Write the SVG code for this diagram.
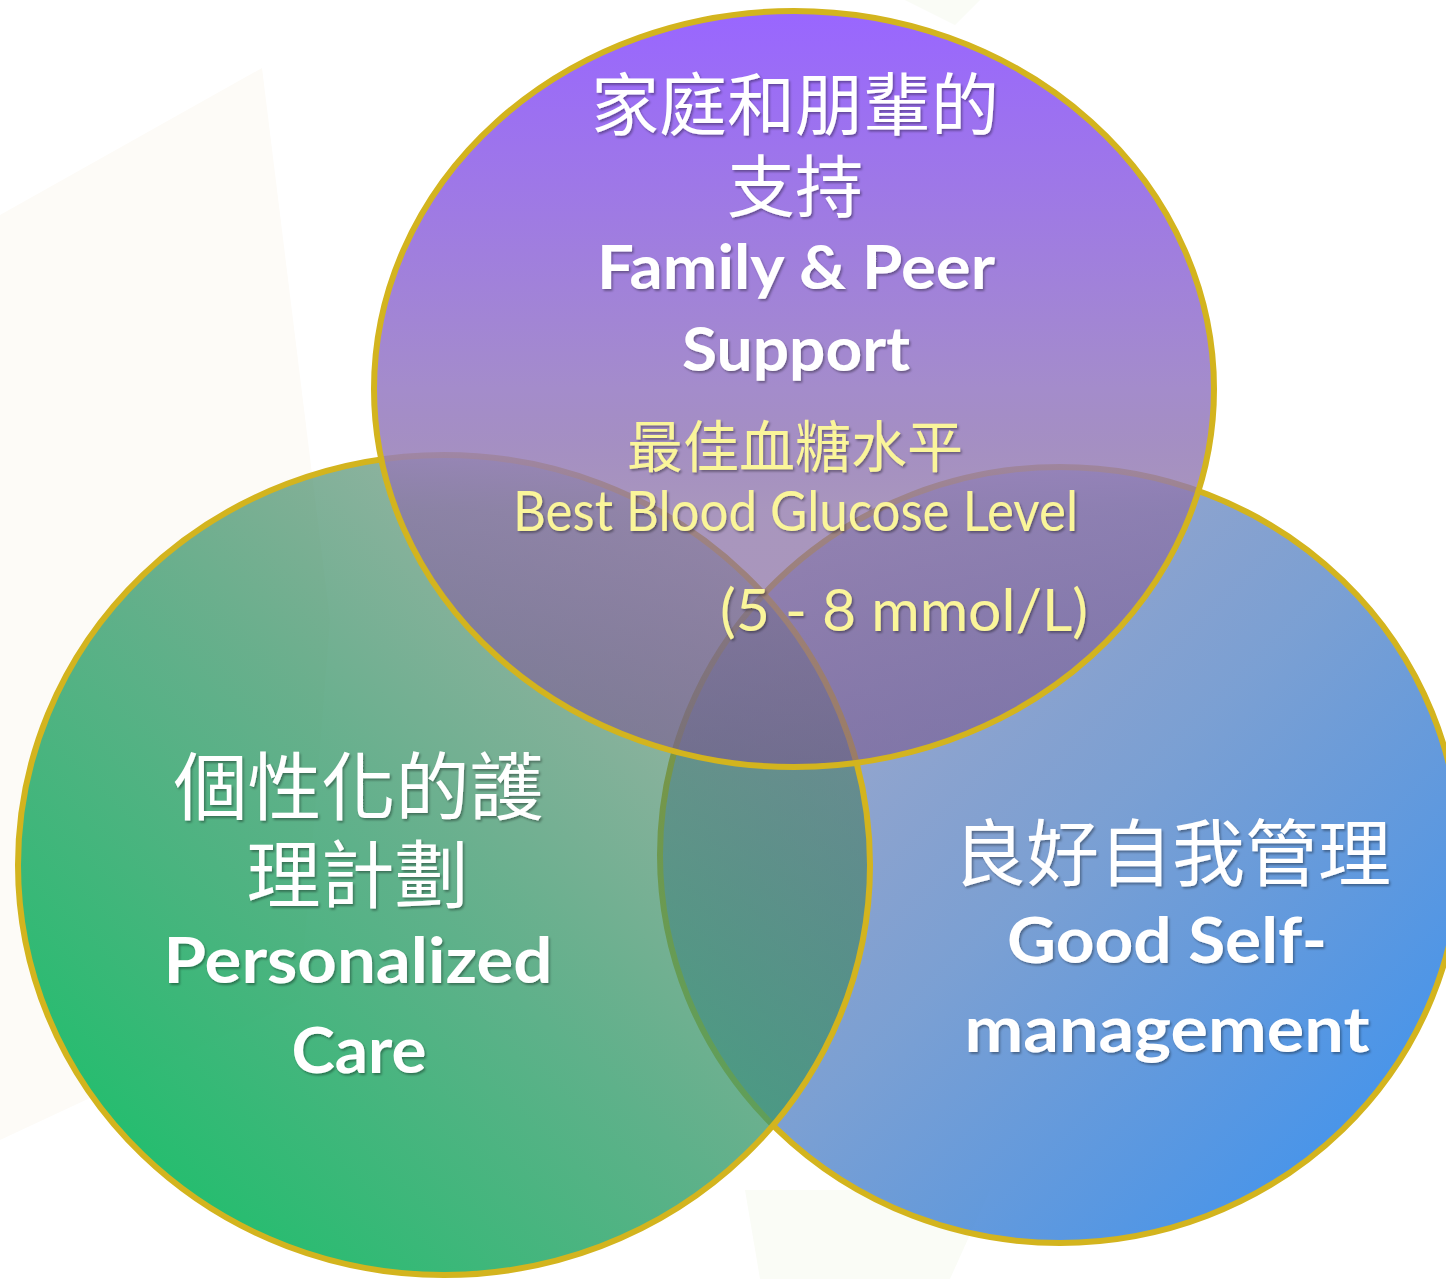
<svg xmlns="http://www.w3.org/2000/svg" width="1446" height="1279" viewBox="0 0 1446 1279">
<defs>
<linearGradient id="gPurple" x1="0" y1="0" x2="0" y2="1">
<stop offset="0" stop-color="#9966FF" stop-opacity="1"/>
<stop offset="0.5" stop-color="#A48CCB" stop-opacity="1"/>
<stop offset="0.66" stop-color="#8C73A8" stop-opacity="0.75"/>
<stop offset="1" stop-color="#785A90" stop-opacity="0.62"/>
</linearGradient>
<linearGradient id="gGreen" x1="0.12" y1="0.9" x2="0.88" y2="0.12">
<stop offset="0" stop-color="#1FBF6C" stop-opacity="1"/>
<stop offset="0.45" stop-color="#3AA070" stop-opacity="0.82"/>
<stop offset="1" stop-color="#466E56" stop-opacity="0.48"/>
</linearGradient>
<linearGradient id="gBlue" x1="0.12" y1="0.12" x2="0.9" y2="0.88">
<stop offset="0" stop-color="#5060A0" stop-opacity="0.5"/>
<stop offset="0.5" stop-color="#5A88C8" stop-opacity="0.8"/>
<stop offset="1" stop-color="#4494EC" stop-opacity="1"/>
</linearGradient>
<filter id="sh" x="-10%" y="-10%" width="120%" height="130%">
<feDropShadow dx="1.5" dy="2" stdDeviation="1.2" flood-color="#000" flood-opacity="0.35"/>
</filter>
</defs>
<style>
.ring{stroke:#D3B41E;stroke-width:6}
.zh{font-family:"Noto Sans CJK TC","Noto Sans CJK SC",sans-serif;fill:#FFFFFF;text-anchor:middle}
.en{font-family:Lato,"Liberation Sans",sans-serif;font-weight:700;fill:#FFFFFF;text-anchor:middle}
.zhy{font-family:"Noto Sans CJK TC","Noto Sans CJK SC",sans-serif;fill:#FAF59A;text-anchor:middle}
.eny{font-family:Lato,"Liberation Sans",sans-serif;fill:#FAF59A;text-anchor:middle}
</style>
<rect width="1446" height="1279" fill="#FFFFFF"/>
<g id="background">
<polygon points="0,215 262,68 330,620 300,1000 0,1140" fill="#FDFBF7"/>
<polygon points="745,1190 990,1190 950,1279 760,1279" fill="#FAFCF6"/>
<polygon points="905,0 980,0 955,25" fill="#FAFCF6"/>
</g>
<g id="node-self-management">
<ellipse cx="1060" cy="855" rx="400" ry="388" fill="url(#gBlue)" class="ring"/>
</g>
<g id="node-personalized-care">
<ellipse cx="444" cy="865" rx="426" ry="410" fill="url(#gGreen)" class="ring"/>
</g>
<g id="node-family-peer-support">
<ellipse cx="794" cy="389" rx="420" ry="378" fill="url(#gPurple)" class="ring"/>
</g>
<g id="connectors"></g>
<g id="labels" filter="url(#sh)">
<g id="label-top">
<text class="zh" x="795" y="130" font-size="68">家庭和朋輩的</text>
<text class="zh" x="795" y="212" font-size="68">支持</text>
<text class="en" x="796" y="289" font-size="61" textLength="398" lengthAdjust="spacingAndGlyphs">Family &amp; Peer</text>
<text class="en" x="796" y="371" font-size="61" textLength="228" lengthAdjust="spacingAndGlyphs">Support</text>
</g>
<g id="label-center">
<text class="zhy" x="795" y="467" font-size="56">最佳血糖水平</text>
<text class="eny" x="795.5" y="531" font-size="56" textLength="565" lengthAdjust="spacingAndGlyphs">Best Blood Glucose Level</text>
<text class="eny" x="904" y="631" font-size="58" textLength="368" lengthAdjust="spacingAndGlyphs">(5 - 8 mmol/L)</text>
</g>
<g id="label-left">
<text class="zh" x="358.5" y="814" font-size="74">個性化的護</text>
<text class="zh" x="357.5" y="902" font-size="74">理計劃</text>
<text class="en" x="358" y="983" font-size="64" textLength="389" lengthAdjust="spacingAndGlyphs">Personalized</text>
<text class="en" x="359" y="1073" font-size="64" textLength="135" lengthAdjust="spacingAndGlyphs">Care</text>
</g>
<g id="label-right">
<text class="zh" x="1172" y="880" font-size="73">良好自我管理</text>
<text class="en" x="1167" y="963" font-size="64" textLength="320" lengthAdjust="spacingAndGlyphs">Good Self-</text>
<text class="en" x="1167" y="1052" font-size="64" textLength="405" lengthAdjust="spacingAndGlyphs">management</text>
</g>
</g>
</svg>
